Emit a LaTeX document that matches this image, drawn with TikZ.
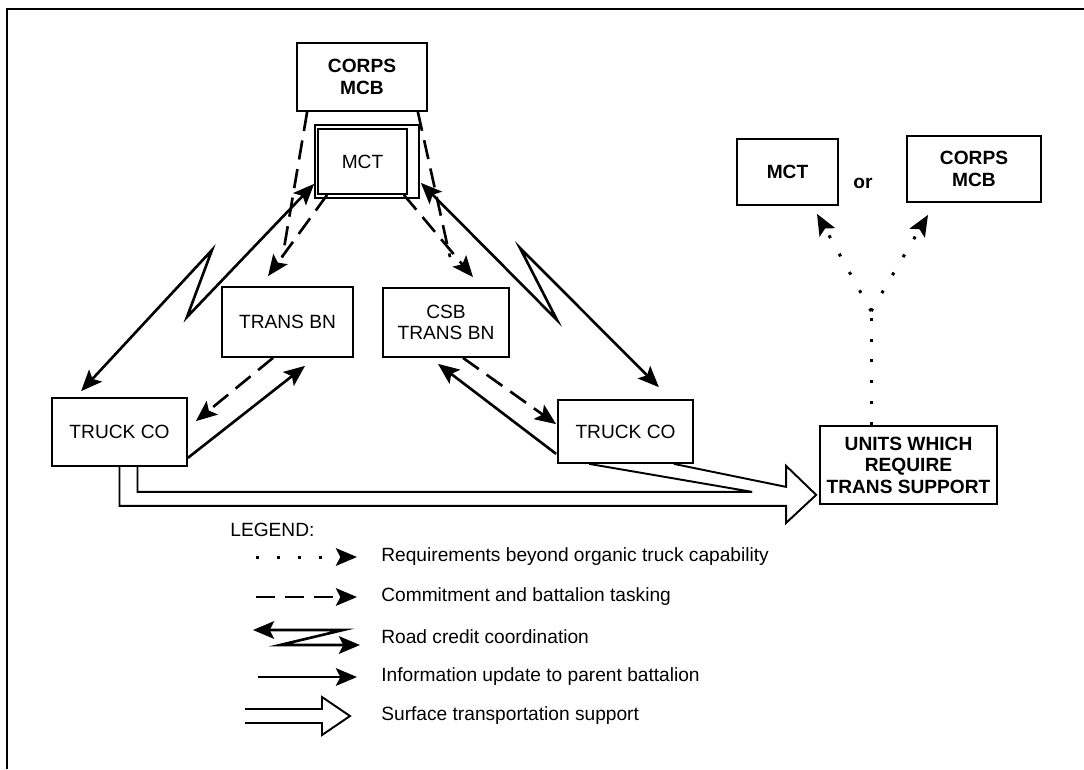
\documentclass[tikz,border=0pt]{standalone}
\usepackage{fontspec}
\setmainfont{Liberation Sans}
\usetikzlibrary{arrows.meta,calc}

\tikzset{
  box/.style={draw, line width=1pt, align=center, inner sep=0pt,
    font=\fontsize{10.9}{12.2}\selectfont},
  boxbf/.style={box, font=\fontsize{10.9}{12.2}\selectfont\bfseries},
  legtext/.style={anchor=west, inner sep=0pt, font=\fontsize{10.9}{12.2}\selectfont},
  info/.style={line width=1.5pt, ->},
  credit/.style={line width=1.5pt, <->},
  task/.style={info, dash pattern=on 11pt off 5.5pt},
  req/.style={info, line width=1.7pt, dash pattern=on 1.7pt off 10.2pt},
  surf/.style={line width=1.1pt, line join=miter},
}

\begin{document}
\begin{tikzpicture}[x=0.02cm, y=-0.02cm, >={Stealth[length=12pt,width=10pt,inset=2.5pt]}]
  \useasboundingbox (0,0) rectangle (1084,769);

  % Rahmen
  \draw[line width=1pt] (7,769) -- (7,9) -- (1084,9);

  % Kaesten
  \node[boxbf, minimum width=2.6cm, minimum height=1.36cm] (corpsT) at (362,77) {CORPS\\MCB};
  \node[box, minimum width=1.78cm, minimum height=1.3cm] (mct) at (362.5,161.5) {MCT};
  \draw[line width=1pt] ($(mct.north west)+(-2,-3)$) rectangle ($(mct.south east)+(11,3)$);
  \node[box, minimum width=2.62cm, minimum height=1.4cm] (transL) at (287.5,322) {TRANS BN};
  \node[box, minimum width=2.52cm, minimum height=1.38cm] (csb) at (446,322.5) {CSB\\TRANS BN};
  \node[box, minimum width=2.7cm, minimum height=1.36cm] (truckL) at (119.5,432) {TRUCK CO};
  \node[box, minimum width=2.7cm, minimum height=1.26cm] (truckR) at (625.5,431.5) {TRUCK CO};
  \node[boxbf, minimum width=3.54cm, minimum height=1.56cm] (units) at (908.5,465) {UNITS WHICH\\REQUIRE\\TRANS SUPPORT};
  \node[boxbf, minimum width=2.02cm, minimum height=1.32cm] (mctR) at (787.5,172) {MCT};
  \node[boxbf, minimum width=2.68cm, minimum height=1.32cm] (corpsR) at (974,169) {CORPS\\MCB};
  \node[font=\fontsize{10.9}{12.2}\selectfont\bfseries] (or) at (863,183) {or};

  % Auftraege (gestrichelt)
  \draw[task] ($(mct.south west)+(10,0)$) -- ($(transL.north)+(-19.5,-10)$);
  \draw[task] ($(mct.south east)+(-4,0)$) -- ($(csb.north)+(27,-10)$);
  \draw[task, -] ($(corpsT.south west)+(11,0)$) -- ($(transL.north)+(-5,-29)$);
  \draw[task, -] ($(corpsT.south east)+(-10,0)$) -- ($(csb.north)+(4,-30)$);
  \draw[task] ($(transL.south)+(-14.5,0)$) -- ($(truckL.north east)+(8,24)$);
  \draw[task] ($(csb.south)+(17,0)$) -- ($(truckR.north west)+(-1,25)$);

  % Strassenbenutzung (Zickzack)
  \draw[credit] ($(truckL.north west)+(30,-6)$) -- (212,250) -- (187,317) -- ($(mct.south west)+(-3,-11)$);
  \draw[credit] ($(mct.south east)+(13,-12)$) -- (557,320) -- (520,248) -- ($(truckR.north east)+(-35,-12)$);

  % Meldungen an Bataillon
  \draw[info] ($(truckL.south east)+(0,-9)$) -- ($(transL.south)+(17.5,8)$);
  \draw[info] ($(truckR.south west)+(-1,-10)$) -- ($(csb.south)+(-8,6)$);

  % Bedarf (gepunktet)
  \coordinate (fork) at ($(units.north west)+(52,-114)$);
  \draw[req, -] ($(units.north west)+(52,0)$) -- (fork);
  \draw[req] (fork) -- ($(mctR.south)+(29.5,8)$);
  \draw[req] (fork) -- ($(corpsR.south)+(-46,12)$);

  % Transportunterstuetzung (Doppelpfeil)
  \coordinate (tip) at ($(units.south west)+(-3,-10)$);
  \draw[surf] (truckL.south) |- ($(tip)+(-30,11)$) -- ++(0,17) -- (tip) -- ++(-30,-29) -- ++(0,21) -- ($(truckR.south east)+(-20,0)$);
  \draw[surf] ($(truckL.south)+(18,0)$) |- ($(tip)+(-64,-3)$) -- ($(truckR.south west)+(32,0)$);

  % Legende
  \node[legtext] (legend) at (230,530) {LEGEND:};
  \foreach \y/\t [count=\i] in {557/Requirements beyond organic truck capability,
      597/Commitment and battalion tasking, 637/Road credit coordination,
      677/Information update to parent battalion, 716/Surface transportation support}
    \node[legtext] (leg\i) at (381,\y) {\t};
  \draw[req] ($(leg1.west)+(-125,0)$) -- ($(leg1.west)+(-24,0)$);
  \draw[task] ($(leg2.west)+(-125,0)$) -- ($(leg2.west)+(-24,0)$);
  \draw[credit] ($(leg3.west)+(-128,-7)$) -- ($(leg3.west)+(-38,-7)$) -- ($(leg3.west)+(-101,8)$) -- ($(leg3.west)+(-21,8)$);
  \draw[info] ($(leg4.west)+(-123,0)$) -- ($(leg4.west)+(-24,0)$);
  \draw[surf] ($(leg5.west)+(-136,-7)$) -- ++(77,0) -- ++(0,-12) -- ++(28,19) -- ++(-28,19) -- ++(0,-12) -- ++(-77,0);
\end{tikzpicture}
\end{document}
